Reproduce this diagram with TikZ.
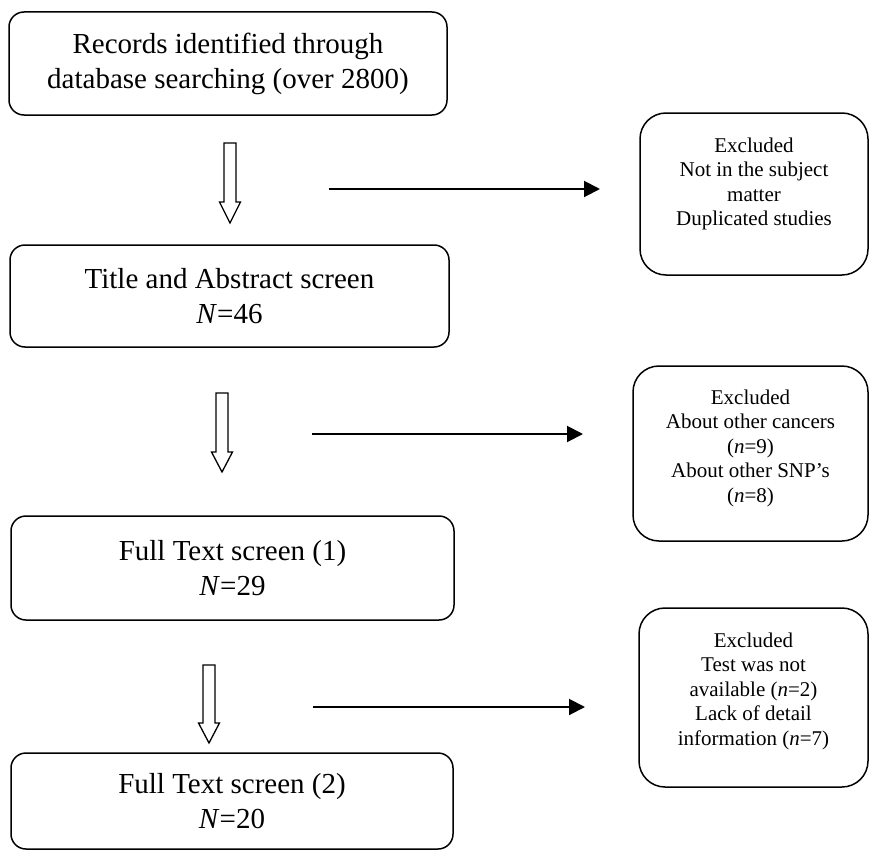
\documentclass[tikz,border=0pt]{standalone}
\usepackage{fontspec}
\setmainfont{Liberation Serif}
\usetikzlibrary{arrows.meta}
\newcommand\hollowarrow[4]{% x, top, head start, bottom
  \draw[hollow] (#1-6,#2) -- (#1+6,#2) -- (#1+6,#3) -- (#1+10.5,#3) -- (#1,#4)
    -- (#1-10.5,#3) -- (#1-6,#3) -- cycle;}
\begin{document}
\begin{tikzpicture}[x=1pt,y=-1pt,
  mainbox/.style={draw, line width=1.5pt, rounded corners=15pt, inner sep=0pt,
    font=\fontsize{29}{35}\selectfont, align=center},
  exbox/.style={draw, line width=1.5pt, rounded corners=26pt, inner sep=0pt},
  smalltext/.style={font=\fontsize{21}{24.5}\selectfont, align=center, inner sep=0pt},
  flow/.style={line width=2pt, -{Triangle[length=16pt,width=16pt]}},
  hollow/.style={draw, line width=1.3pt, fill=white, line join=miter}]
\useasboundingbox (0,0) rectangle (870,851);

% main boxes
\node[mainbox, minimum width=438pt, minimum height=103pt] (b1) at (228,63.5)
  {Records identified through\\database searching (over 2800)};
\node[mainbox, minimum width=439pt, minimum height=102pt] (b2) at (229.5,296)
  {Title and Abstract screen\\\textit{N}=46};
\node[mainbox, minimum width=443pt, minimum height=104pt] (b3) at (232.5,568)
  {Full Text screen (1)\\\textit{N}=29};
\node[mainbox, minimum width=442pt, minimum height=96pt] (b4) at (232,801)
  {Full Text screen (2)\\\textit{N}=20};

% exclusion boxes
\node[exbox, minimum width=228pt, minimum height=162pt] (x1) at (754,194) {};
\node[smalltext] (x1t) at (754,184)
  {Excluded\\Not in the subject\\matter\\Duplicated studies};
\node[exbox, minimum width=235pt, minimum height=175pt] (x2) at (750.5,453.5) {};
\node[smalltext] (x2t) at (750.5,448)
  {Excluded\\About other cancers\\(\textit{n}=9)\\About other SNP’s\\(\textit{n}=8)};
\node[exbox, minimum width=229pt, minimum height=179pt] (x3) at (753.5,697.5) {};
\node[smalltext] (x3t) at (753.5,691)
  {Excluded\\Test was not\\available (\textit{n}=2)\\Lack of detail\\information (\textit{n}=7)};

% hollow down arrows
\hollowarrow{230}{143}{202}{223}
\hollowarrow{222}{393}{452}{472}
\hollowarrow{209}{665}{723}{743}

% horizontal arrows
\coordinate (e1s) at (329,189);
\coordinate (e1e) at (600,189);
\coordinate (e2s) at (312,434);
\coordinate (e2e) at (583,434);
\coordinate (e3s) at (313,707);
\coordinate (e3e) at (585,707);
\draw[flow] (e1s) -- (e1e);
\draw[flow] (e2s) -- (e2e);
\draw[flow] (e3s) -- (e3e);
\end{tikzpicture}
\end{document}
